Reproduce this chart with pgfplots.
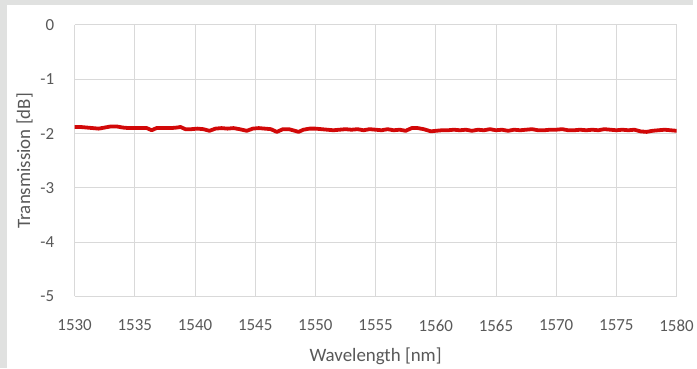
\documentclass[border=0pt]{standalone}
\usepackage{pgfplots}
\pgfplotsset{compat=1.18}
\usepackage{fontspec}
\setmainfont{Carlito}
\definecolor{txt}{RGB}{89,89,89}
\definecolor{grd}{RGB}{217,217,217}
\definecolor{frame}{RGB}{224,225,224}
\definecolor{lred}{RGB}{210,8,8}
\begin{document}
\begin{tikzpicture}[x=1pt,y=1pt]
\fill[white] (0,0) rectangle (697,370);
\fill[frame] (0,365) rectangle (697,370);
\fill[frame] (0,0) rectangle (7,370);
\begin{axis}[
  at={(75pt,72pt)}, anchor=south west,
  scale only axis, width=605pt, height=273pt,
  xmin=1530, xmax=1580, ymin=-5, ymax=0,
  xtick={1530,1535,...,1580}, ytick={-5,-4,...,0},
  grid=major, major grid style={color=grd, line width=0.8pt},
  axis line style={draw=none}, tick style={draw=none},
  /pgf/number format/assume math mode=true,
  /pgf/number format/1000 sep={},
  ticklabel style={font=\fontsize{17}{20}\selectfont, color=txt},
  xticklabel style={yshift=-20pt},
  yticklabel style={xshift=-17pt},
  xlabel={Wavelength [nm]}, ylabel={Transmission [dB]},
  label style={font=\fontsize{19}{22}\selectfont, color=txt},
  xlabel style={yshift=-9pt},
  ylabel style={yshift=1pt},
]
\addplot[color=lred, line width=3.8pt, line join=round, line cap=round] coordinates {
(1530.0,-1.88)(1530.5,-1.88)(1531.0,-1.89)(1531.5,-1.90)(1532.0,-1.91)(1532.5,-1.89)
(1533.0,-1.87)(1533.5,-1.87)(1534.0,-1.89)(1534.5,-1.90)(1535.0,-1.90)(1535.5,-1.90)
(1536.0,-1.90)(1536.4,-1.94)(1536.8,-1.90)(1537.5,-1.90)(1538.0,-1.90)(1538.5,-1.89)
(1538.8,-1.88)(1539.2,-1.92)(1539.7,-1.92)(1540.2,-1.91)(1540.7,-1.92)(1541.2,-1.95)
(1541.7,-1.91)(1542.2,-1.90)(1542.7,-1.91)(1543.2,-1.90)(1543.7,-1.92)(1544.3,-1.95)
(1544.8,-1.91)(1545.3,-1.90)(1545.8,-1.91)(1546.3,-1.92)(1546.8,-1.97)(1547.3,-1.92)
(1547.8,-1.92)(1548.3,-1.95)(1548.6,-1.97)(1549.0,-1.93)(1549.5,-1.91)(1550.0,-1.91)
(1550.5,-1.92)(1551.0,-1.93)(1551.5,-1.94)(1552.0,-1.93)(1552.5,-1.92)(1553.0,-1.93)
(1553.5,-1.92)(1554.0,-1.94)(1554.5,-1.92)(1555.0,-1.93)(1555.5,-1.94)(1556.0,-1.92)
(1556.5,-1.94)(1557.0,-1.93)(1557.5,-1.95)(1558.0,-1.90)(1558.5,-1.90)(1559.0,-1.92)
(1559.6,-1.96)(1560.0,-1.95)(1560.5,-1.94)(1561.0,-1.94)(1561.5,-1.93)(1562.0,-1.94)
(1562.5,-1.93)(1563.0,-1.95)(1563.5,-1.93)(1564.0,-1.94)(1564.5,-1.92)(1565.0,-1.94)
(1565.5,-1.93)(1566.0,-1.95)(1566.5,-1.93)(1567.0,-1.94)(1567.5,-1.93)(1568.0,-1.92)
(1568.5,-1.94)(1569.0,-1.94)(1569.5,-1.93)(1570.0,-1.93)(1570.5,-1.92)(1571.0,-1.94)
(1571.5,-1.94)(1572.0,-1.93)(1572.5,-1.94)(1573.0,-1.93)(1573.5,-1.94)(1574.0,-1.92)
(1574.5,-1.93)(1575.0,-1.94)(1575.5,-1.93)(1576.0,-1.94)(1576.5,-1.93)(1577.0,-1.96)
(1577.5,-1.97)(1578.0,-1.95)(1578.5,-1.94)(1579.0,-1.93)(1579.5,-1.94)(1580.0,-1.95)
};
\end{axis}
\useasboundingbox (0,0) rectangle (697,370);
\end{tikzpicture}
\end{document}
